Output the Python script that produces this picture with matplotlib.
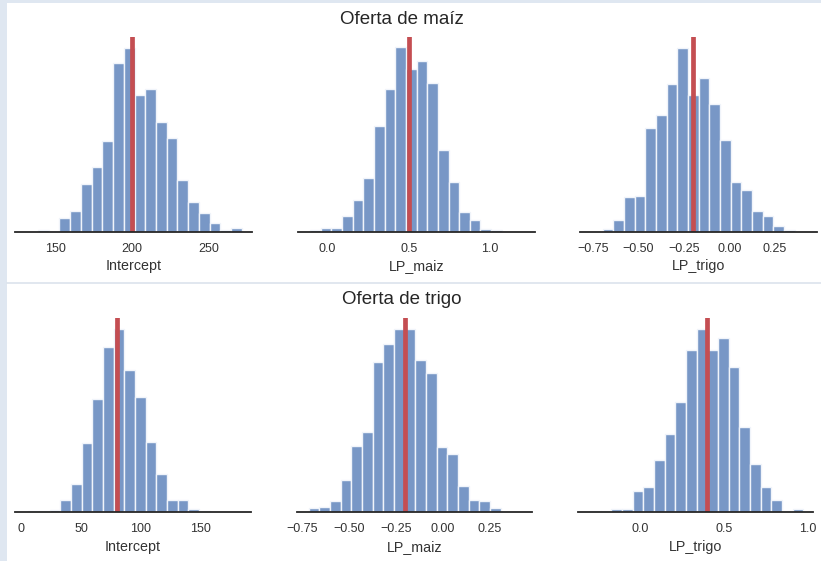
import numpy as np
import matplotlib
matplotlib.use("Agg")
import matplotlib.pyplot as plt
from matplotlib.patches import Rectangle
from matplotlib.lines import Line2D

plt.rcParams['font.family'] = ['Liberation Sans', 'DejaVu Sans']

# valores verdaderos de los parametros
true_maiz = [200, 0.5, -0.2]
true_trigo = [80, -0.2, 0.4]
param_names = ['Intercept', 'LP_maiz', 'LP_trigo']

# histogramas (inicio de bins, fin de bins, conteos)
maiz_intercept_range = (138.5, 271.5)
maiz_intercept_counts = [7, 0, 41, 64, 145, 194, 274, 508, 554, 412, 430, 332, 282,
                         157, 89, 56, 27, 5, 12]
maiz_lpmaiz_range = (-0.109, 1.075)
maiz_lpmaiz_counts = [5, 13, 13, 49, 97, 162, 318, 430, 555, 489, 514, 449, 245,
                      151, 61, 35, 9, 5]
maiz_lptrigo_range = (-0.697, 0.36)
maiz_lptrigo_counts = [9, 37, 104, 107, 312, 351, 444, 554, 412, 464, 385, 277, 150,
                       127, 64, 48, 17, 7]

trigo_intercept_range = (6.1, 157.4)
trigo_intercept_counts = [4, 4, 7, 36, 86, 208, 341, 496, 551, 427, 347, 211, 116,
                          36, 36, 9, 4]
trigo_lpmaiz_range = (-0.715, 0.306)
trigo_lpmaiz_counts = [13, 17, 34, 97, 200, 241, 452, 506, 551, 551, 457, 419, 196,
                       176, 80, 38, 35, 13]
trigo_lptrigo_range = (-0.297, 0.971)
trigo_lptrigo_counts = [5, 5, 9, 9, 64, 76, 156, 234, 330, 488, 551, 488, 523, 436,
                        255, 145, 76, 37, 5, 9]

# limites y ticks
maiz_xlims = [(123.5, 278.3), (-0.181, 1.28), (-0.822, 0.481)]
trigo_xlims = [(-5, 191.7), (-0.778, 0.475), (-0.366, 1.03)]
maiz_ticks = [[150, 200, 250], [0.0, 0.5, 1.0], [-0.75, -0.5, -0.25, 0.0, 0.25]]
trigo_ticks = [[0, 50, 100, 150], [-0.75, -0.5, -0.25, 0.0, 0.25], [0.0, 0.5, 1.0]]

W, H = 821, 561
fig = plt.figure(figsize=(W / 100, H / 100), dpi=100)
fig.patch.set_facecolor('#DFE7F1')
fig.add_artist(Rectangle((7 / W, 0), 1, 1 - 3 / H, transform=fig.transFigure,
                         facecolor='white', edgecolor='none', zorder=0))
fig.add_artist(Line2D([7 / W, 1], [1 - 283 / H] * 2, transform=fig.transFigure,
                      color='#DCE3EC', lw=1.2))

bar_color = '#7897C6'
red = '#C44E52'


def draw(ax, rng, counts, true, xlim, ticks, name, ytop):
    edges = np.linspace(rng[0], rng[1], len(counts) + 1)
    centers = (edges[:-1] + edges[1:]) / 2
    ax.hist(centers, bins=edges, weights=counts, color=bar_color,
            edgecolor='#F0F4FA', linewidth=1.0)
    ax.axvline(true, color=red, lw=3.4)
    ax.set_xlim(xlim)
    ax.set_ylim(0, ytop)
    ax.set_xticks(ticks)
    ax.set_yticks([])
    ax.tick_params(axis='x', length=0, pad=8, labelsize=9, labelcolor='#333333')
    ax.set_xlabel(name, fontsize=10.3, color='#333333', labelpad=3)
    for s in ['left', 'right', 'top']:
        ax.spines[s].set_visible(False)
    ax.spines['bottom'].set_color('#262626')
    ax.spines['bottom'].set_linewidth(1.3)
    ax.patch.set_alpha(0)


top_pos = [(15, 252.3), (298.3, 535), (580, 816.7)]
bot_pos = [(15, 251), (296.7, 532.3), (578.3, 813.3)]

maiz_data = [(maiz_intercept_range, maiz_intercept_counts),
             (maiz_lpmaiz_range, maiz_lpmaiz_counts),
             (maiz_lptrigo_range, maiz_lptrigo_counts)]
trigo_data = [(trigo_intercept_range, trigo_intercept_counts),
              (trigo_lpmaiz_range, trigo_lpmaiz_counts),
              (trigo_lptrigo_range, trigo_lptrigo_counts)]

for i in range(3):
    x0, x1 = top_pos[i]
    ax = fig.add_axes([x0 / W, 1 - 232 / H, (x1 - x0) / W, (232 - 36.7) / H])
    draw(ax, maiz_data[i][0], maiz_data[i][1], true_maiz[i], maiz_xlims[i],
         maiz_ticks[i], param_names[i], 587)

    x0, x1 = bot_pos[i]
    ax = fig.add_axes([x0 / W, 1 - 512.3 / H, (x1 - x0) / W, (512.3 - 317.7) / H])
    draw(ax, trigo_data[i][0], trigo_data[i][1], true_trigo[i], trigo_xlims[i],
         trigo_ticks[i], param_names[i], 584)

fig.text(402 / W, 1 - 19 / H, 'Oferta de maíz', ha='center', va='center',
         fontsize=13.5, color='#262626')
fig.text(402 / W, 1 - 300 / H, 'Oferta de trigo', ha='center', va='center',
         fontsize=13.5, color='#262626')

fig.savefig('out.png', dpi=100, facecolor=fig.get_facecolor())
